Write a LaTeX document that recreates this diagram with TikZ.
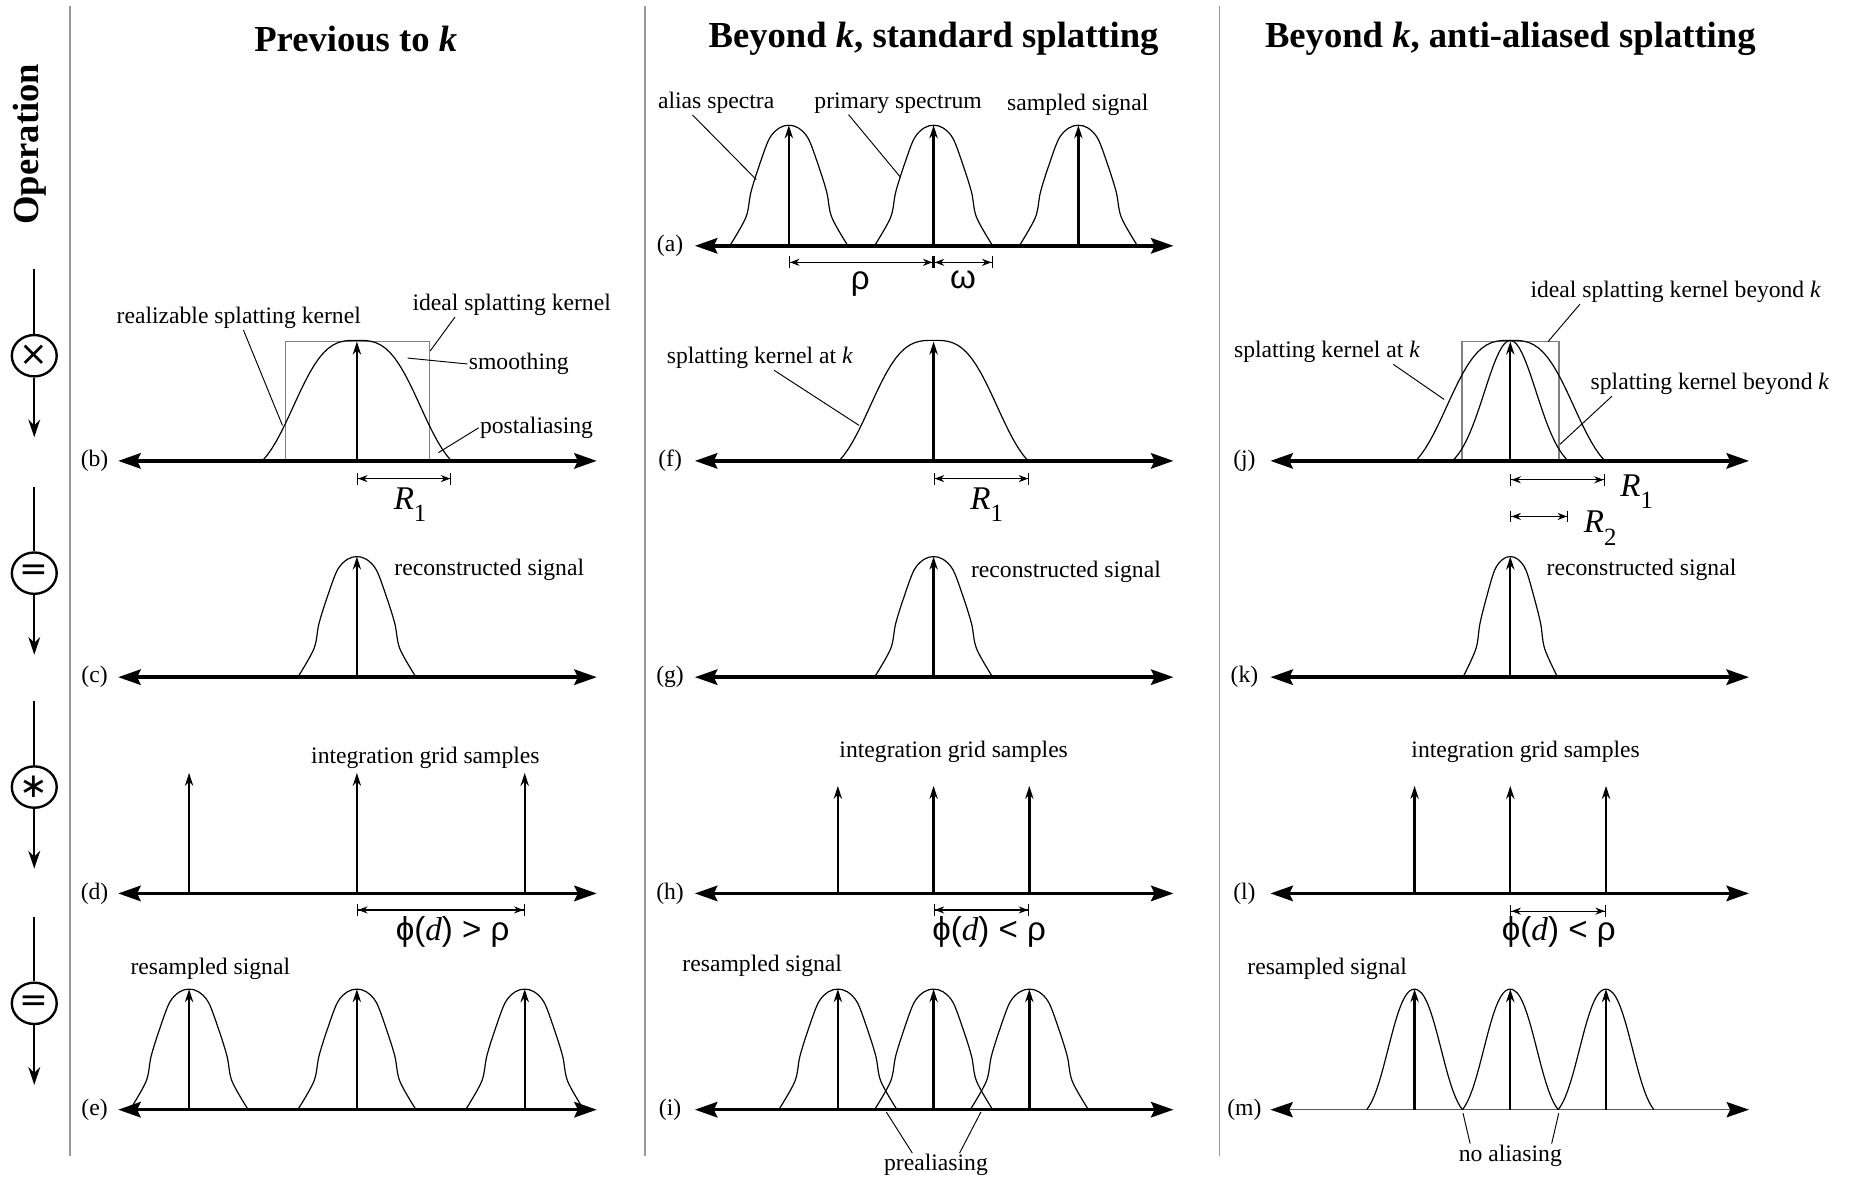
\documentclass[tikz,border=0pt]{standalone}
\usepackage{fontspec}
\setmainfont{Liberation Serif}
\newfontfamily\symf{Liberation Sans}
\newfontfamily\opf{DejaVu Sans}
\usetikzlibrary{arrows.meta,shapes.geometric}

% centre x, axis y, half width, a2, a3
\newcommand{\kernel}[5]{%
  \draw[curve] plot[domain=-#3:#3, samples=41]
    ({#1+\x},{#2-102*(exp(-(#4*(\x/#3)*(\x/#3)+#5*abs(\x/#3)*(\x/#3)*(\x/#3)))-exp(-(#4+#5)))/(1-exp(-(#4+#5)))});}
% centre x, axis y, half width
\newcommand{\bump}[3]{%
  \draw[curve, shift={(#1,#2)}, xscale=#3, yscale=-102] plot[smooth, tension=0.55] coordinates {
    (-1,0) (-0.727,0.236) (-0.642,0.444) (-0.5,0.667) (-0.33,0.889) (-0.16,0.978) (0,1)
    (0.16,0.978) (0.33,0.889) (0.5,0.667) (0.642,0.444) (0.727,0.236) (1,0)};}
\newcommand{\rsub}[1]{\textit{R}\raisebox{-0.38em}{\fontsize{21}{21}\selectfont #1}}

\begin{document}
\begin{tikzpicture}[
  x=1pt,y=-1pt,
  every node/.style={font=\fontsize{20}{22}\selectfont, inner sep=1pt},
  head/.style={font=\fontsize{31}{34}\selectfont\bfseries},
  big/.style={font=\fontsize{28}{30}\selectfont},
  axis/.style={line width=3pt, {Stealth[length=19pt,width=13pt,inset=3pt]}-{Stealth[length=19pt,width=13pt,inset=3pt]}},
  thinaxis/.style={line width=1.3pt, draw=black!65, {Stealth[length=19pt,width=13pt,inset=3pt,black]}-{Stealth[length=19pt,width=13pt,inset=3pt,black]}},
  impulse/.style={line width=2pt, -{Stealth[length=11pt,width=7pt]}},
  curve/.style={line width=1pt},
  leader/.style={line width=0.8pt},
  dim/.style={line width=1pt, {Bar[width=10pt]Stealth[length=8pt,width=6pt]}-{Stealth[length=8pt,width=6pt]Bar[width=10pt]}},
  idealbox/.style={line width=1.5pt, draw=black!50},
  sep/.style={line width=1.5pt, draw=black!40},
  opnode/.style={draw, ellipse, line width=2pt, minimum width=38pt, minimum height=35pt, inner sep=0pt, font=\fontsize{29}{29}\opf},
  opline/.style={line width=2pt},
  oparrow/.style={line width=2pt, -{Stealth[length=15pt,width=10pt]}}
]
\useasboundingbox (0,0) rectangle (1568,999);

\draw[sep] (59,5) -- (59,978);
\draw[sep] (546,5) -- (546,978);
\draw[sep] (1032,5) -- (1032,978);

\node[head] (t1) at (301,33) {Previous to \textit{k}};
\node[head] (t2) at (790,33) {Beyond \textit{k}, standard splatting};
\node[head] (t3) at (1278,33) {Beyond \textit{k}, anti-aliased splatting};
\node[head, rotate=90] (oper) at (25,122) {Operation};

\foreach \n/\s/\yc in {1/×/301, 2/=/485, 3/∗/666, 4/=/849} {
  \coordinate (op\n top) at (29,\yc-73);
  \node[opnode] (op\n) at (29,\yc) {\s};
  \coordinate (op\n end) at (29,\yc+69);
  \draw[opline] (op\n top) -- (op\n);
  \draw[oparrow] (op\n) -- (op\n end);
}

% (a)
\node (pa) at (567,208) {(a)};
\draw[axis] (588,208) -- (993,208);
\foreach \c in {667.5,790,912.5} {
  \bump{\c}{208}{50}
  \draw[impulse] (\c,208) -- (\c,106);
}
\draw[dim] (667.5,222) -- (790,222);
\draw[dim] (790,222) -- (840,222);
\node[big] (rho) at (728,240) {\symf ρ};
\node[big] (omega) at (815,237) {\symf ω};
\node (alias) at (606,87) {alias spectra};
\node (primary) at (760,87) {primary spectrum};
\node (sampled) at (912,89) {sampled signal};
\coordinate (alias end) at (640,152);
\coordinate (primary end) at (762,150);
\draw[leader] ([xshift=-20pt]alias.south) -- (alias end);
\draw[leader] ([xshift=-42pt]primary.south) -- (primary end);

% (b)
\node (pb) at (80,390) {(b)};
\draw[idealbox] (241.5,390) |- (363.5,289) -- (363.5,390);
\draw[axis] (100,390) -- (505,390);
\kernel{302}{390}{80}{0}{2.2}
\draw[impulse] (302,390) -- (302,289);
\draw[dim] (302,405) -- (382,405);
\node[big] (r1b) at (347,427) {\rsub{1}};
\node (realiz) at (202,269) {realizable splatting kernel};
\node (idealk) at (433,258) {ideal splatting kernel};
\node (smooth) at (439,308) {smoothing};
\node (postal) at (454,362) {postaliasing};
\coordinate (realiz end) at (239,360);
\coordinate (idealk end) at (364,297);
\coordinate (smooth end) at (345,303);
\coordinate (postal end) at (371,383);
\draw[leader] ([xshift=4pt]realiz.south) -- (realiz end);
\draw[leader] ([xshift=-48pt]idealk.south) -- (idealk end);
\draw[leader] (smooth.west) -- (smooth end);
\draw[leader] (postal.west) -- (postal end);

% (c)
\node (pc) at (80,573) {(c)};
\draw[axis] (100,573) -- (505,573);
\bump{302}{573}{50}
\draw[impulse] (302,573) -- (302,471);
\node (recon1) at (414,482) {reconstructed signal};

% (d)
\node (pd) at (80,756) {(d)};
\draw[axis] (100,756) -- (505,756);
\foreach \c in {160,302,444}
  \draw[impulse] (\c,756) -- (\c,654);
\draw[dim] (302,770) -- (444,770);
\node[big] (phi1) at (383,789) {{\symf ϕ(}\textit{d}{\symf ) > ρ}};
\node (grid1) at (360,641) {integration grid samples};

% (e)
\node (pe) at (80,939) {(e)};
\draw[axis] (100,939) -- (505,939);
\foreach \c in {160,302,444} {
  \bump{\c}{939}{50}
  \draw[impulse] (\c,939) -- (\c,837);
}
\node (resamp1) at (178,820) {resampled signal};

% (f)
\node (pf) at (567,390) {(f)};
\draw[axis] (588,390) -- (993,390);
\kernel{790}{390}{80}{0}{2.2}
\draw[impulse] (790,390) -- (790,289);
\draw[dim] (790,405) -- (871,405);
\node[big] (r1f) at (835,427) {\rsub{1}};
\node (katf) at (643,303) {splatting kernel at \textit{k}};
\coordinate (katf end) at (727,360);
\draw[leader] ([xshift=12pt]katf.south) -- (katf end);

% (g)
\node (pg) at (567,573) {(g)};
\draw[axis] (588,573) -- (993,573);
\bump{790}{573}{50}
\draw[impulse] (790,573) -- (790,471);
\node (recon2) at (902,484) {reconstructed signal};

% (h)
\node (ph) at (567,756) {(h)};
\draw[axis] (588,756) -- (993,756);
\foreach \c in {709,790,871}
  \draw[impulse] (\c,756) -- (\c,665);
\draw[dim] (790,770) -- (871,770);
\node[big] (phi2) at (837,789) {{\symf ϕ(}\textit{d}{\symf ) < ρ}};
\node (grid2) at (807,636) {integration grid samples};

% (i)
\node (pi) at (567,939) {(i)};
\draw[axis] (588,939) -- (993,939);
\foreach \c in {709,790,871} {
  \bump{\c}{939}{50}
  \draw[impulse] (\c,939) -- (\c,837);
}
\node (resamp2) at (645,817) {resampled signal};
\node (preal) at (792,986) {prealiasing};
\coordinate (preal left) at (750,941);
\coordinate (preal right) at (830,941);
\draw[leader] ([xshift=-20pt]preal.north) -- (preal left);
\draw[leader] ([xshift=20pt]preal.north) -- (preal right);

% (j)
\node (pj) at (1053,390) {(j)};
\draw[idealbox] (1237,390) |- (1319,289) -- (1319,390);
\draw[axis] (1075,390) -- (1480,390);
\kernel{1278}{390}{80}{0}{2.2}
\kernel{1278}{390}{49}{2.5}{0}
\draw[impulse] (1278,390) -- (1278,289);
\draw[dim] (1278,406) -- (1358,406);
\draw[dim] (1278,437) -- (1327,437);
\node[big] (r1j) at (1385,416) {\rsub{1}};
\node[big] (r2j) at (1354,447) {\rsub{2}};
\node (ibk) at (1418,247) {ideal splatting kernel beyond \textit{k}};
\node (katj) at (1123,298) {splatting kernel at \textit{k}};
\node (kbj) at (1447,325) {splatting kernel beyond \textit{k}};
\coordinate (ibk end) at (1310,289);
\coordinate (katj end) at (1222,338);
\coordinate (kbj end) at (1320,376);
\draw[leader] ([xshift=-81pt]ibk.south) -- (ibk end);
\draw[leader] ([xshift=56pt]katj.south) -- (katj end);
\draw[leader] ([xshift=-83pt]kbj.south) -- (kbj end);

% (k)
\node (pk) at (1053,573) {(k)};
\draw[axis] (1075,573) -- (1480,573);
\bump{1278}{573}{40}
\draw[impulse] (1278,573) -- (1278,471);
\node (recon3) at (1389,482) {reconstructed signal};

% (l)
\node (pl) at (1053,756) {(l)};
\draw[axis] (1075,756) -- (1480,756);
\foreach \c in {1197,1278,1359}
  \draw[impulse] (\c,756) -- (\c,665);
\draw[dim] (1278,771) -- (1359,771);
\node[big] (phi3) at (1319,789) {{\symf ϕ(}\textit{d}{\symf ) < ρ}};
\node (grid3) at (1291,636) {integration grid samples};

% (m)
\node (pm) at (1053,939) {(m)};
\draw[thinaxis] (1075,939) -- (1480,939);
\foreach \c in {1197,1278,1359} {
  \kernel{\c}{939}{40.5}{1.2}{1.5}
  \draw[impulse] (\c,939) -- (\c,837);
}
\node (resamp3) at (1123,820) {resampled signal};
\node (noal) at (1278,978) {no aliasing};
\coordinate (noal left) at (1238,942);
\coordinate (noal right) at (1319,942);
\draw[leader] ([xshift=-34pt]noal.north) -- (noal left);
\draw[leader] ([xshift=35pt]noal.north) -- (noal right);
\end{tikzpicture}
\end{document}
